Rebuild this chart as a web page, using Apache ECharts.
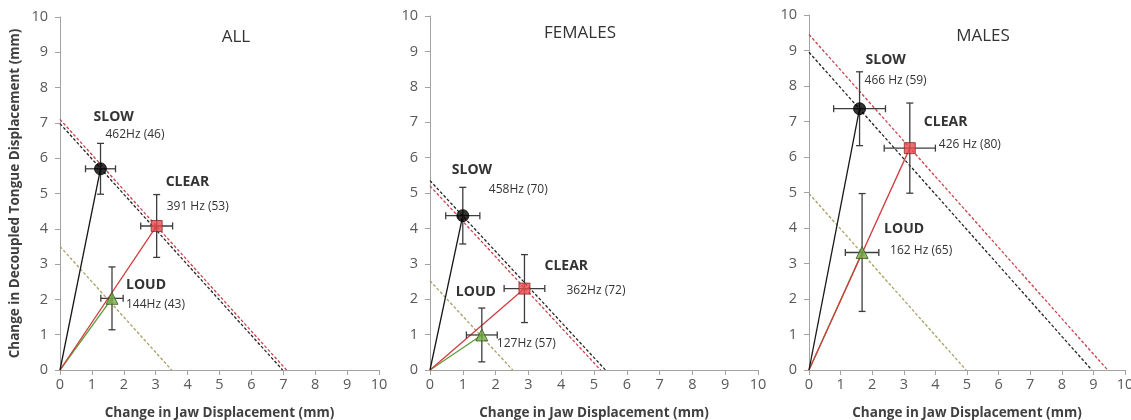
<!DOCTYPE html>
<html>
<head>
<meta charset="utf-8">
<script src="https://cdn.jsdelivr.net/npm/echarts@6/dist/echarts.min.js"></script>
<style>
  html, body { margin: 0; padding: 0; background: #fff; }
  #chart { width: 1131px; height: 420px; }
</style>
</head>
<body>
<div id="chart"></div>
<script>
// panels and conditions
const panels = ['ALL', 'FEMALES', 'MALES'];
const conditions = ['SLOW', 'CLEAR', 'LOUD'];

// ALL
const allJaw = [1.27, 3.03, 1.63];
const allJawErr = [0.47, 0.50, 0.35];
const allTongue = [5.70, 4.08, 2.03];
const allTongueErr = [0.72, 0.89, 0.89];
const allSum = [6.98, 7.10, 3.50];
const allHz = ['462Hz (46)', '391 Hz (53)', '144Hz (43)'];

// FEMALES
const femJaw = [1.00, 2.88, 1.58];
const femJawErr = [0.52, 0.62, 0.47];
const femTongue = [4.36, 2.30, 0.99];
const femTongueErr = [0.80, 0.96, 0.76];
const femSum = [5.35, 5.20, 2.52];
const femHz = ['458Hz (70)', '362Hz (72)', '127Hz (57)'];

// MALES
const malJaw = [1.60, 3.19, 1.68];
const malJawErr = [0.82, 0.81, 0.53];
const malTongue = [7.36, 6.25, 3.31];
const malTongueErr = [1.04, 1.27, 1.66];
const malSum = [8.95, 9.45, 4.97];
const malHz = ['466 Hz (59)', '426 Hz (80)', '162 Hz (65)'];

const jaw = [allJaw, femJaw, malJaw];
const jawErr = [allJawErr, femJawErr, malJawErr];
const tongue = [allTongue, femTongue, malTongue];
const tongueErr = [allTongueErr, femTongueErr, malTongueErr];
const sums = [allSum, femSum, malSum];
const hz = [allHz, femHz, malHz];

// styling
const FONT = '"Open Sans", sans-serif';
const solidColors = ['#161616', '#d23c40', '#5e9c3a'];
const dashColors = ['#262626', '#c8434b', '#a7a064'];
const markerFill = ['#000000', '#e8494d', '#73ad45'];
const markerBorder = ['#000000', '#8a2b2b', '#3d5a24'];
const symbols = ['circle', 'rect', 'triangle'];
const symbolSizes = [12, 11, 12];

const grids = [
  { left: 60, top: 17, width: 319, height: 353, outerBoundsMode: 'none' },
  { left: 430, top: 16, width: 328, height: 354, outerBoundsMode: 'none' },
  { left: 809, top: 15, width: 316, height: 355, outerBoundsMode: 'none' }
];
const titlePos = [[231, 24], [575, 20], [978, 23]];

// label offsets from each marker, [name dx, name dy, hz dx, hz dy]
const labelOffsets = [
  [[-7, -52, 5, -34], [9, -44, 10, -19], [14, -13, 14, 6]],
  [[-11, -46, 26, -26], [20, -23, 42, 2], [-26, -43, 15, 9]],
  [[6, -49, 5, -28], [14, -26, 29, -4], [22, -23, 28, -2]]
];

const axisGray = '#a3a3a3';

const xAxis = panels.map((p, i) => ({
  gridIndex: i,
  type: 'value',
  min: 0,
  max: 10,
  interval: 1,
  axisLine: { show: true, lineStyle: { color: axisGray, width: 1 } },
  axisTick: { show: true, length: 5, lineStyle: { color: axisGray } },
  axisLabel: { color: '#595959', fontSize: 14.5, fontFamily: FONT, margin: 7 },
  splitLine: { show: false },
  name: 'Change in Jaw Displacement (mm)',
  nameLocation: 'middle',
  nameGap: 36,
  nameTextStyle: { fontWeight: 'bold', fontSize: 13.5, color: '#404040', fontFamily: FONT }
}));

const yAxis = panels.map((p, i) => ({
  gridIndex: i,
  type: 'value',
  min: 0,
  max: 10,
  interval: 1,
  axisLine: { show: true, lineStyle: { color: axisGray, width: 1 } },
  axisTick: { show: true, length: 5, lineStyle: { color: axisGray } },
  axisLabel: { color: '#595959', fontSize: 14.5, fontFamily: FONT, margin: 12 },
  splitLine: { show: false },
  name: i === 0 ? 'Change in Decoupled Tongue Displacement (mm)' : '',
  nameLocation: 'middle',
  nameGap: 38,
  nameTextStyle: { fontWeight: 'bold', fontSize: 13.5, color: '#404040', fontFamily: FONT }
}));

const series = [];
panels.forEach((p, i) => {
  // iso lines (dashed)
  conditions.forEach((c, k) => {
    series.push({
      type: 'line',
      xAxisIndex: i,
      yAxisIndex: i,
      data: [[0, sums[i][k]], [sums[i][k], 0]],
      symbol: 'none',
      silent: true,
      z: 1,
      lineStyle: { color: dashColors[k], width: 1.3, type: [3, 2] }
    });
  });
  // vectors from origin
  [2, 1, 0].forEach(k => {
    series.push({
      type: 'line',
      xAxisIndex: i,
      yAxisIndex: i,
      data: [[0, 0], [jaw[i][k], tongue[i][k]]],
      symbol: 'none',
      silent: true,
      z: 2,
      lineStyle: { color: solidColors[k], width: 1.3 }
    });
  });
  // error bars
  series.push({
    type: 'custom',
    xAxisIndex: i,
    yAxisIndex: i,
    z: 3,
    silent: true,
    data: conditions.map((c, k) => [jaw[i][k], tongue[i][k], jawErr[i][k], tongueErr[i][k]]),
    renderItem: (params, api) => {
      const x = api.value(0), y = api.value(1), ex = api.value(2), ey = api.value(3);
      const l = api.coord([x - ex, y]), r = api.coord([x + ex, y]);
      const t = api.coord([x, y + ey]), b = api.coord([x, y - ey]);
      const cap = 3.5;
      const st = { stroke: '#3d3d3d', lineWidth: 1.3 };
      const seg = (x1, y1, x2, y2) => ({ type: 'line', shape: { x1, y1, x2, y2 }, style: st });
      return {
        type: 'group',
        children: [
          seg(l[0], l[1], r[0], r[1]),
          seg(l[0], l[1] - cap, l[0], l[1] + cap),
          seg(r[0], r[1] - cap, r[0], r[1] + cap),
          seg(t[0], t[1], b[0], b[1]),
          seg(t[0] - cap, t[1], t[0] + cap, t[1]),
          seg(b[0] - cap, b[1], b[0] + cap, b[1])
        ]
      };
    }
  });
  // markers
  series.push({
    type: 'scatter',
    xAxisIndex: i,
    yAxisIndex: i,
    z: 4,
    silent: true,
    data: conditions.map((c, k) => ({
      value: [jaw[i][k], tongue[i][k]],
      symbol: symbols[k],
      symbolSize: symbolSizes[k],
      itemStyle: { color: markerFill[k], borderColor: markerBorder[k], borderWidth: 1 }
    }))
  });
  // labels
  series.push({
    type: 'custom',
    xAxisIndex: i,
    yAxisIndex: i,
    z: 5,
    silent: true,
    data: conditions.map((c, k) => [jaw[i][k], tongue[i][k], k]),
    renderItem: (params, api) => {
      const k = api.value(2);
      const pt = api.coord([api.value(0), api.value(1)]);
      const o = labelOffsets[i][k];
      const txt = (text, dx, dy, font) => ({
        type: 'text',
        x: pt[0] + dx,
        y: pt[1] + dy,
        style: {
          text, font, fill: '#333333',
          align: 'left', verticalAlign: 'middle',
          textAlign: 'left', textVerticalAlign: 'middle'
        }
      });
      return {
        type: 'group',
        children: [
          txt(conditions[k], o[0], o[1], 'bold 14px ' + FONT),
          txt(hz[i][k], o[2], o[3], '12px ' + FONT)
        ]
      };
    }
  });
});

const chart = echarts.init(document.getElementById('chart'));
chart.setOption({
  backgroundColor: '#ffffff',
  animation: false,
  textStyle: { fontFamily: FONT },
  title: panels.map((p, i) => ({
    text: p,
    left: titlePos[i][0],
    top: titlePos[i][1],
    textAlign: 'center',
    textStyle: { fontSize: 17, fontWeight: 'normal', color: '#333333', fontFamily: FONT }
  })),
  grid: grids,
  xAxis,
  yAxis,
  series
});
</script>
</body>
</html>
